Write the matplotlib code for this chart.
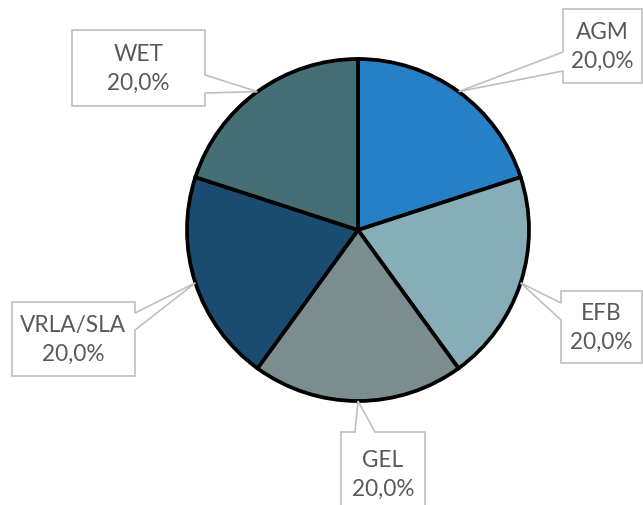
import numpy as np
import matplotlib
matplotlib.use("Agg")
import matplotlib.pyplot as plt
from matplotlib.patches import Polygon

# Data
categories = ["AGM", "EFB", "GEL", "VRLA/SLA", "WET"]
values = [20.0, 20.0, 20.0, 20.0, 20.0]
colors = ["#2680C5", "#86ADB8", "#7A8E8F", "#1A4C72", "#466E76"]

W, H = 643, 505
fig = plt.figure(figsize=(W / 100, H / 100), dpi=100)
ax = fig.add_axes([0, 0, 1, 1])

cx, cy, R = 358, H - 230, 171
wedges, _ = ax.pie(values, colors=colors, startangle=90, counterclock=False,
                   center=(cx, cy), radius=R,
                   wedgeprops=dict(edgecolor="black", linewidth=2.7))
ax.set_xlim(0, W)
ax.set_ylim(0, H)
ax.set_aspect("equal")
ax.axis("off")

# Label boxes (image pixel coords: left, top, right, bottom), side of pointer, pointer span
boxes = {
    "AGM": ((563, 9, 642, 83), "left", (52, 71)),
    "EFB": ((561, 291, 642, 363), "left", (303, 320)),
    "GEL": ((341, 432, 425, 540), "top", (355, 375)),
    "VRLA/SLA": ((12, 302, 135, 376), "right", (313, 330)),
    "WET": ((72, 30, 205, 106), "right", (75, 93)),
}

total = sum(values)
for w, cat, val in zip(wedges, categories, values):
    mid = np.deg2rad((w.theta1 + w.theta2) / 2)
    tx, ty = cx + R * np.cos(mid), cy + R * np.sin(mid)
    (l, t, r, b), side, (p1, p2) = boxes[cat]
    T, B = H - t, H - b
    if side == "left":
        pts = [(l, T), (r, T), (r, B), (l, B), (l, H - p2), (tx, ty), (l, H - p1)]
    elif side == "right":
        pts = [(l, T), (r, T), (r, H - p1), (tx, ty), (r, H - p2), (r, B), (l, B)]
    else:  # top
        pts = [(l, T), (p1, T), (tx, ty), (p2, T), (r, T), (r, B), (l, B)]
    poly = Polygon(pts, closed=True, facecolor="white", edgecolor="#BFBFBF",
                   linewidth=1.2, zorder=5, clip_on=False)
    ax.add_patch(poly)
    ycen = (t + b) / 2 + 1 if b < H else t + 43
    ax.text((l + r) / 2, H - ycen,
            f"{cat}\n{val / total * 100:.1f}%".replace(".", ","),
            ha="center", va="center", fontsize=16.3, color="#595959",
            family=["Lato", "DejaVu Sans"], linespacing=1.45, zorder=6)

fig.savefig("out.png", dpi=100)
